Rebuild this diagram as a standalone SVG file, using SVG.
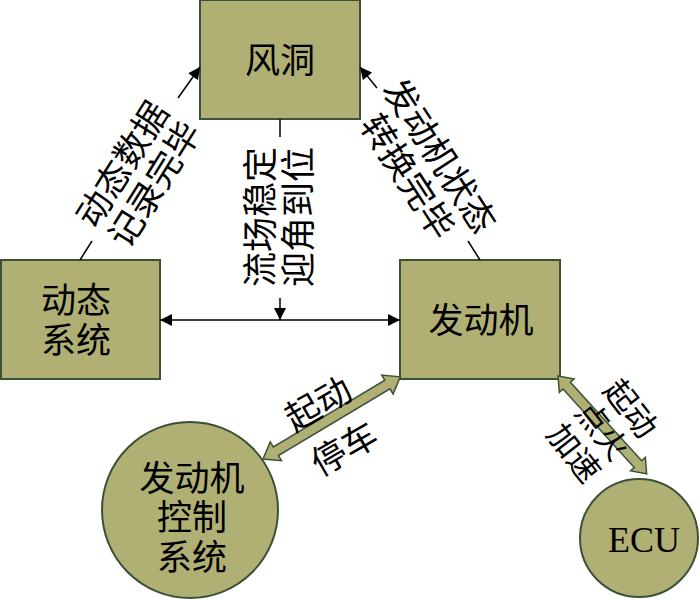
<svg xmlns="http://www.w3.org/2000/svg" width="700" height="599" viewBox="0 0 700 599">
<style>
.box{fill:#b0af74;stroke:#3b5238;stroke-width:2}
.t{font-family:"Liberation Sans","Noto Sans CJK SC",sans-serif;font-size:35px;fill:#000;text-anchor:middle;dominant-baseline:central}
.lt{font-family:"Liberation Sans","Noto Sans CJK SC",sans-serif;font-size:35px;fill:#000;text-anchor:middle;dominant-baseline:central}
.st{font-family:"Liberation Sans","Noto Sans CJK SC",sans-serif;font-size:32px;fill:#000;text-anchor:middle;dominant-baseline:central}
.ln{stroke:#000;stroke-width:1.5;fill:none}
.blk{fill:#b0af74;stroke:#3b5238;stroke-width:1.5;stroke-linejoin:miter}
</style>
<defs>
<marker id="ah" viewBox="0 0 12 12" refX="12" refY="6" markerWidth="12" markerHeight="12" markerUnits="userSpaceOnUse" orient="auto-start-reverse">
<path d="M0,0 L12,6 L0,12 Z" fill="#000"/>
</marker>
</defs>
<rect width="700" height="599" fill="#fff"/>

<g id="wind-tunnel">
<rect class="box" x="200" y="0" width="160" height="119"/>
<text class="t" x="280" y="60">风洞</text>
</g>
<g id="dynamic-system">
<rect class="box" x="1" y="260" width="159" height="119"/>
<text class="t"><tspan x="76" y="300">动态</tspan><tspan x="76" y="339.5">系统</tspan></text>
</g>
<g id="engine">
<rect class="box" x="400" y="260" width="160" height="119"/>
<text class="t" x="481" y="320">发动机</text>
</g>
<g id="engine-control">
<circle class="box" cx="190" cy="510" r="88"/>
<text class="t"><tspan x="192" y="477.5">发动机</tspan><tspan x="192" y="517">控制</tspan><tspan x="192" y="556.5">系统</tspan></text>
</g>
<g id="ecu">
<circle class="box" cx="639" cy="538" r="59"/>
<text x="644" y="552" font-family="Liberation Serif, serif" font-size="36" text-anchor="middle">ECU</text>
</g>

<g id="connectors">
<line class="ln" x1="160" y1="320" x2="400" y2="320" marker-start="url(#ah)" marker-end="url(#ah)"/>
<line class="ln" x1="280" y1="119" x2="280" y2="137"/>
<line class="ln" x1="280" y1="298" x2="280" y2="320" marker-end="url(#ah)"/>
<line class="ln" x1="80" y1="260" x2="92" y2="241"/>
<line class="ln" x1="178" y1="98" x2="200" y2="67" marker-end="url(#ah)"/>
<line class="ln" x1="480" y1="260" x2="468" y2="241"/>
<line class="ln" x1="377" y1="88" x2="360" y2="67" marker-end="url(#ah)"/>
<polygon class="blk" transform="translate(263,459) rotate(-30.9)" points="0,0 15,-11 15,-5 145,-5 145,-11 160,0 145,11 145,5 15,5 15,11"/>
<polygon class="blk" transform="translate(558,376) rotate(47.8)" points="0,0 13,-10 13,-5 119,-5 119,-10 132,0 119,10 119,5 13,5 13,10"/>
</g>

<g id="labels">
<g transform="translate(138,174) rotate(-58)">
<text class="lt"><tspan x="0" y="-19">动态数据</tspan><tspan x="0" y="19">记录完毕</tspan></text>
</g>
<g transform="translate(279,217) rotate(-90)">
<text class="lt"><tspan x="0" y="-19">流场稳定</tspan><tspan x="0" y="19">迎角到位</tspan></text>
</g>
<g transform="translate(424,166) rotate(57)">
<text class="lt"><tspan x="0" y="-19">发动机状态</tspan><tspan x="0" y="19">转换完毕</tspan></text>
</g>
<g transform="translate(331,426) rotate(-30)">
<text class="lt"><tspan x="0" y="-26">起动</tspan><tspan x="0" y="26">停车</tspan></text>
</g>
<g transform="translate(602,431) rotate(52)">
<text class="st"><tspan x="0" y="-36">起动</tspan><tspan x="0" y="0">点火</tspan><tspan x="0" y="36">加速</tspan></text>
</g>
</g>
</svg>
